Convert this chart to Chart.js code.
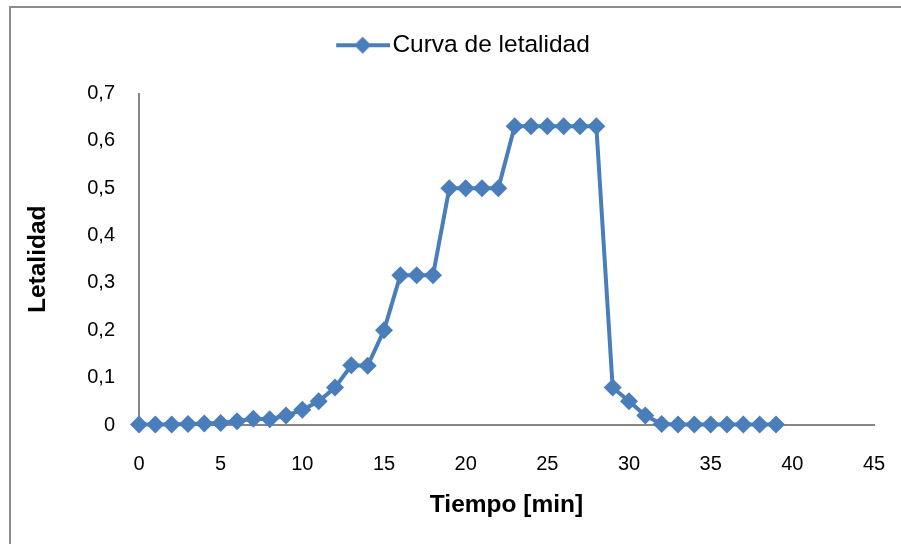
<!DOCTYPE html>
<html>
<head>
<meta charset="utf-8">
<script src="https://cdn.jsdelivr.net/npm/chart.js@4/dist/chart.umd.min.js"></script>
<style>
  html, body { margin: 0; padding: 0; background: #fff; }
  #wrap { position: relative; width: 901px; height: 544px; overflow: hidden; }
  #frame { position: absolute; left: 9px; top: 6px; width: 1000px; height: 1000px; border: 2px solid #8c8c8c; box-sizing: border-box; }
  canvas { position: absolute; left: 0; top: 0; }
</style>
</head>
<body>
<div id="wrap">
  <div id="frame"></div>
  <canvas id="c" width="901" height="544"></canvas>
</div>
<script>
const seriesName = 'Curva de letalidad';
const minutes = [0,1,2,3,4,5,6,7,8,9,10,11,12,13,14,15,16,17,18,19,20,21,22,23,24,25,26,27,28,29,30,31,32,33,34,35,36,37,38,39];
const lethality = [0.001,0.001,0.001,0.002,0.003,0.004,0.008,0.013,0.012,0.02,0.032,0.05,0.079,0.126,0.125,0.2,0.316,0.316,0.316,0.5,0.5,0.5,0.5,0.631,0.631,0.631,0.631,0.631,0.631,0.079,0.05,0.02,0.002,0.001,0.001,0.001,0.001,0.001,0.001,0.001];
const xTicks = [0,5,10,15,20,25,30,35,40,45];
const yTicks = [0,0.1,0.2,0.3,0.4,0.5,0.6,0.7];
const yTickLabels = ['0','0,1','0,2','0,3','0,4','0,5','0,6','0,7'];
const xTitle = 'Tiempo [min]';
const yTitle = 'Letalidad';

const BLUE = '#4A7EBB';
const AXIS = '#868686';
const FONT = '"Liberation Sans", Arial, sans-serif';

// legend symbol: line with a diamond (left part transparent)
const sym = document.createElement('canvas');
sym.width = 116; sym.height = 20;
(function(){
  const g = sym.getContext('2d');
  g.strokeStyle = BLUE; g.lineWidth = 4;
  g.beginPath(); g.moveTo(62, 10); g.lineTo(116, 10); g.stroke();
  g.fillStyle = BLUE;
  g.beginPath(); g.moveTo(88.5, 1.5); g.lineTo(97, 10); g.lineTo(88.5, 18.5); g.lineTo(80, 10); g.closePath(); g.fill();
})();

const points = minutes.map((m, i) => ({x: m, y: lethality[i]}));

new Chart(document.getElementById('c'), {
  type: 'line',
  data: {
    datasets: [{
      label: seriesName,
      data: points,
      borderColor: BLUE,
      backgroundColor: BLUE,
      borderWidth: 4,
      pointStyle: 'rectRot',
      pointRadius: 9,
      pointBorderWidth: 0,
      pointBackgroundColor: BLUE,
      tension: 0,
      clip: false
    }]
  },
  options: {
    responsive: false,
    animation: false,
    devicePixelRatio: 1,
    layout: { padding: { top: 23, left: 0, right: 27, bottom: 0 } },
    plugins: {
      legend: {
        display: true,
        position: 'top',
        labels: {
          usePointStyle: true,
          pointStyle: sym,
          pointStyleWidth: 96,
          color: '#000',
          font: { family: FONT, size: 24.5 },
          padding: 10
        }
      },
      subtitle: {
        display: true,
        text: '',
        position: 'top',
        weight: 500,
        font: { size: 10, lineHeight: 1 },
        padding: { top: 16, bottom: 0 }
      },
      tooltip: { enabled: false }
    },
    scales: {
      x: {
        type: 'linear',
        min: 0, max: 45,
        afterBuildTicks: s => { s.ticks = xTicks.map(v => ({value: v})); },
        ticks: {
          color: '#000',
          font: { family: FONT, size: 20 },
          padding: 27,
          maxRotation: 0,
          autoSkip: false
        },
        grid: { display: false, drawTicks: false },
        border: { display: true, color: AXIS, width: 2 },
        title: {
          display: true, text: xTitle, color: '#000',
          font: { family: FONT, size: 24.5, weight: 'bold' },
          padding: { top: 0, bottom: 24 }
        },
        afterFit: s => { s.height = 119; s.paddingRight = 0; s.paddingLeft = 0; }
      },
      y: {
        type: 'linear',
        min: 0, max: 0.7,
        afterBuildTicks: s => { s.ticks = yTicks.map(v => ({value: v})); },
        ticks: {
          color: '#000',
          font: { family: FONT, size: 20 },
          padding: 24,
          callback: (v) => { const i = yTicks.findIndex(t => Math.abs(t - v) < 1e-9); return i >= 0 ? yTickLabels[i] : ''; }
        },
        grid: { display: false, drawTicks: false },
        border: { display: true, color: AXIS, width: 2 },
        title: {
          display: true, text: yTitle, color: '#000',
          font: { family: FONT, size: 24.5, weight: 'bold' },
          padding: { top: 24, bottom: 0 }
        },
        afterFit: s => { s.width = 139; }
      }
    }
  }
});
</script>
</body>
</html>
